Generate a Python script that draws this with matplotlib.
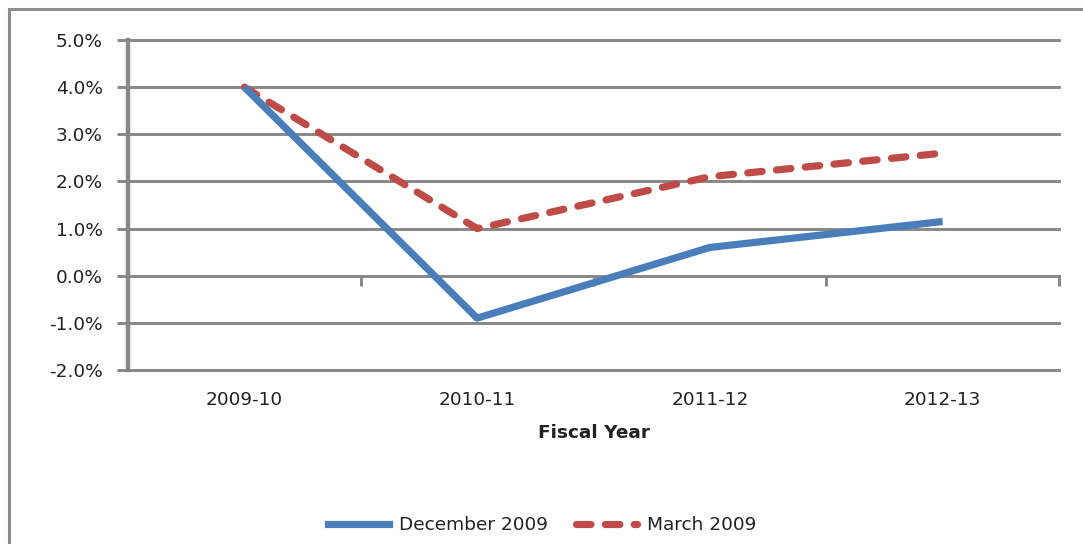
import matplotlib
matplotlib.use("Agg")
import matplotlib.pyplot as plt
from matplotlib.patches import Rectangle
from matplotlib.lines import Line2D

categories = ["2009-10", "2010-11", "2011-12", "2012-13"]
december_2009 = [4.0, -0.9, 0.6, 1.15]
march_2009 = [4.0, 1.0, 2.1, 2.6]
y_ticks = [-2, -1, 0, 1, 2, 3, 4, 5]
y_tick_labels = ["-2.0%", "-1.0%", "0.0%", "1.0%", "2.0%", "3.0%", "4.0%", "5.0%"]

W, H = 1083, 544
fig = plt.figure(figsize=(W / 100, H / 100), dpi=100)
plt.rcParams['font.family'] = ['DejaVu Sans']
FS = 13.3
TXT = "#222222"

# outer chart border
fig.patches.append(Rectangle((9 / W, -0.1), 1.2, 1 - 9 / H + 0.1, transform=fig.transFigure,
                             fill=False, edgecolor="#8c8c8c", linewidth=2.2))

ax = fig.add_axes([128 / W, 1 - 370 / H, (1059 - 128) / W, (370 - 40) / H])
grid_c = "#878787"
x = list(range(len(categories)))
ax.set_xlim(-0.5, len(categories) - 0.5)
ax.set_ylim(-2, 5)

for yv in y_ticks:
    ax.axhline(yv, color=grid_c, linewidth=2.1, zorder=1, clip_on=False)

for s in ["top", "right", "bottom"]:
    ax.spines[s].set_visible(False)
ax.spines["left"].set_color(grid_c)
ax.spines["left"].set_linewidth(3.2)
ax.spines["left"].set_zorder(2)

ax.set_yticks(y_ticks)
ax.set_yticklabels(y_tick_labels)
ax.tick_params(axis="y", length=8, width=2.1, color=grid_c, pad=10, labelsize=FS, labelcolor=TXT)

ax.set_xticks(x)
ax.set_xticklabels(categories)
ax.tick_params(axis="x", length=0, pad=15, labelsize=FS, labelcolor=TXT)

# category axis crossing at 0%
sec = ax.secondary_xaxis(2 / 7)
sec.set_xticks([i + 0.5 for i in range(len(categories))])
sec.set_xticklabels([])
sec.tick_params(axis="x", direction="out", length=7, width=2.1, color=grid_c)
sec.spines["bottom"].set_visible(False)

ax.plot(x, december_2009, color="#4A7EBB", linewidth=5.2, solid_capstyle="butt",
        zorder=4, label="December 2009")
ax.plot(x, march_2009, color="#BE4B48", linewidth=5.2, dashes=(2.0, 2.0),
        dash_capstyle="round", zorder=3, label="March 2009")

ax.set_xlabel("Fiscal Year", fontsize=FS, fontweight="bold", color=TXT, labelpad=11)

handles = [Line2D([], [], color="#4A7EBB", linewidth=5.2),
           Line2D([], [], color="#BE4B48", linewidth=5.2, dashes=(2.0, 2.0), dash_capstyle="round")]
fig.legend(handles, ["December 2009", "March 2009"], loc="center", bbox_to_anchor=(542 / W, 1 - 525 / H),
           ncol=2, frameon=False, fontsize=FS, handlelength=3.3, handletextpad=0.55, columnspacing=1.5,
           labelcolor=TXT)

fig.savefig("out.png", dpi=100)
